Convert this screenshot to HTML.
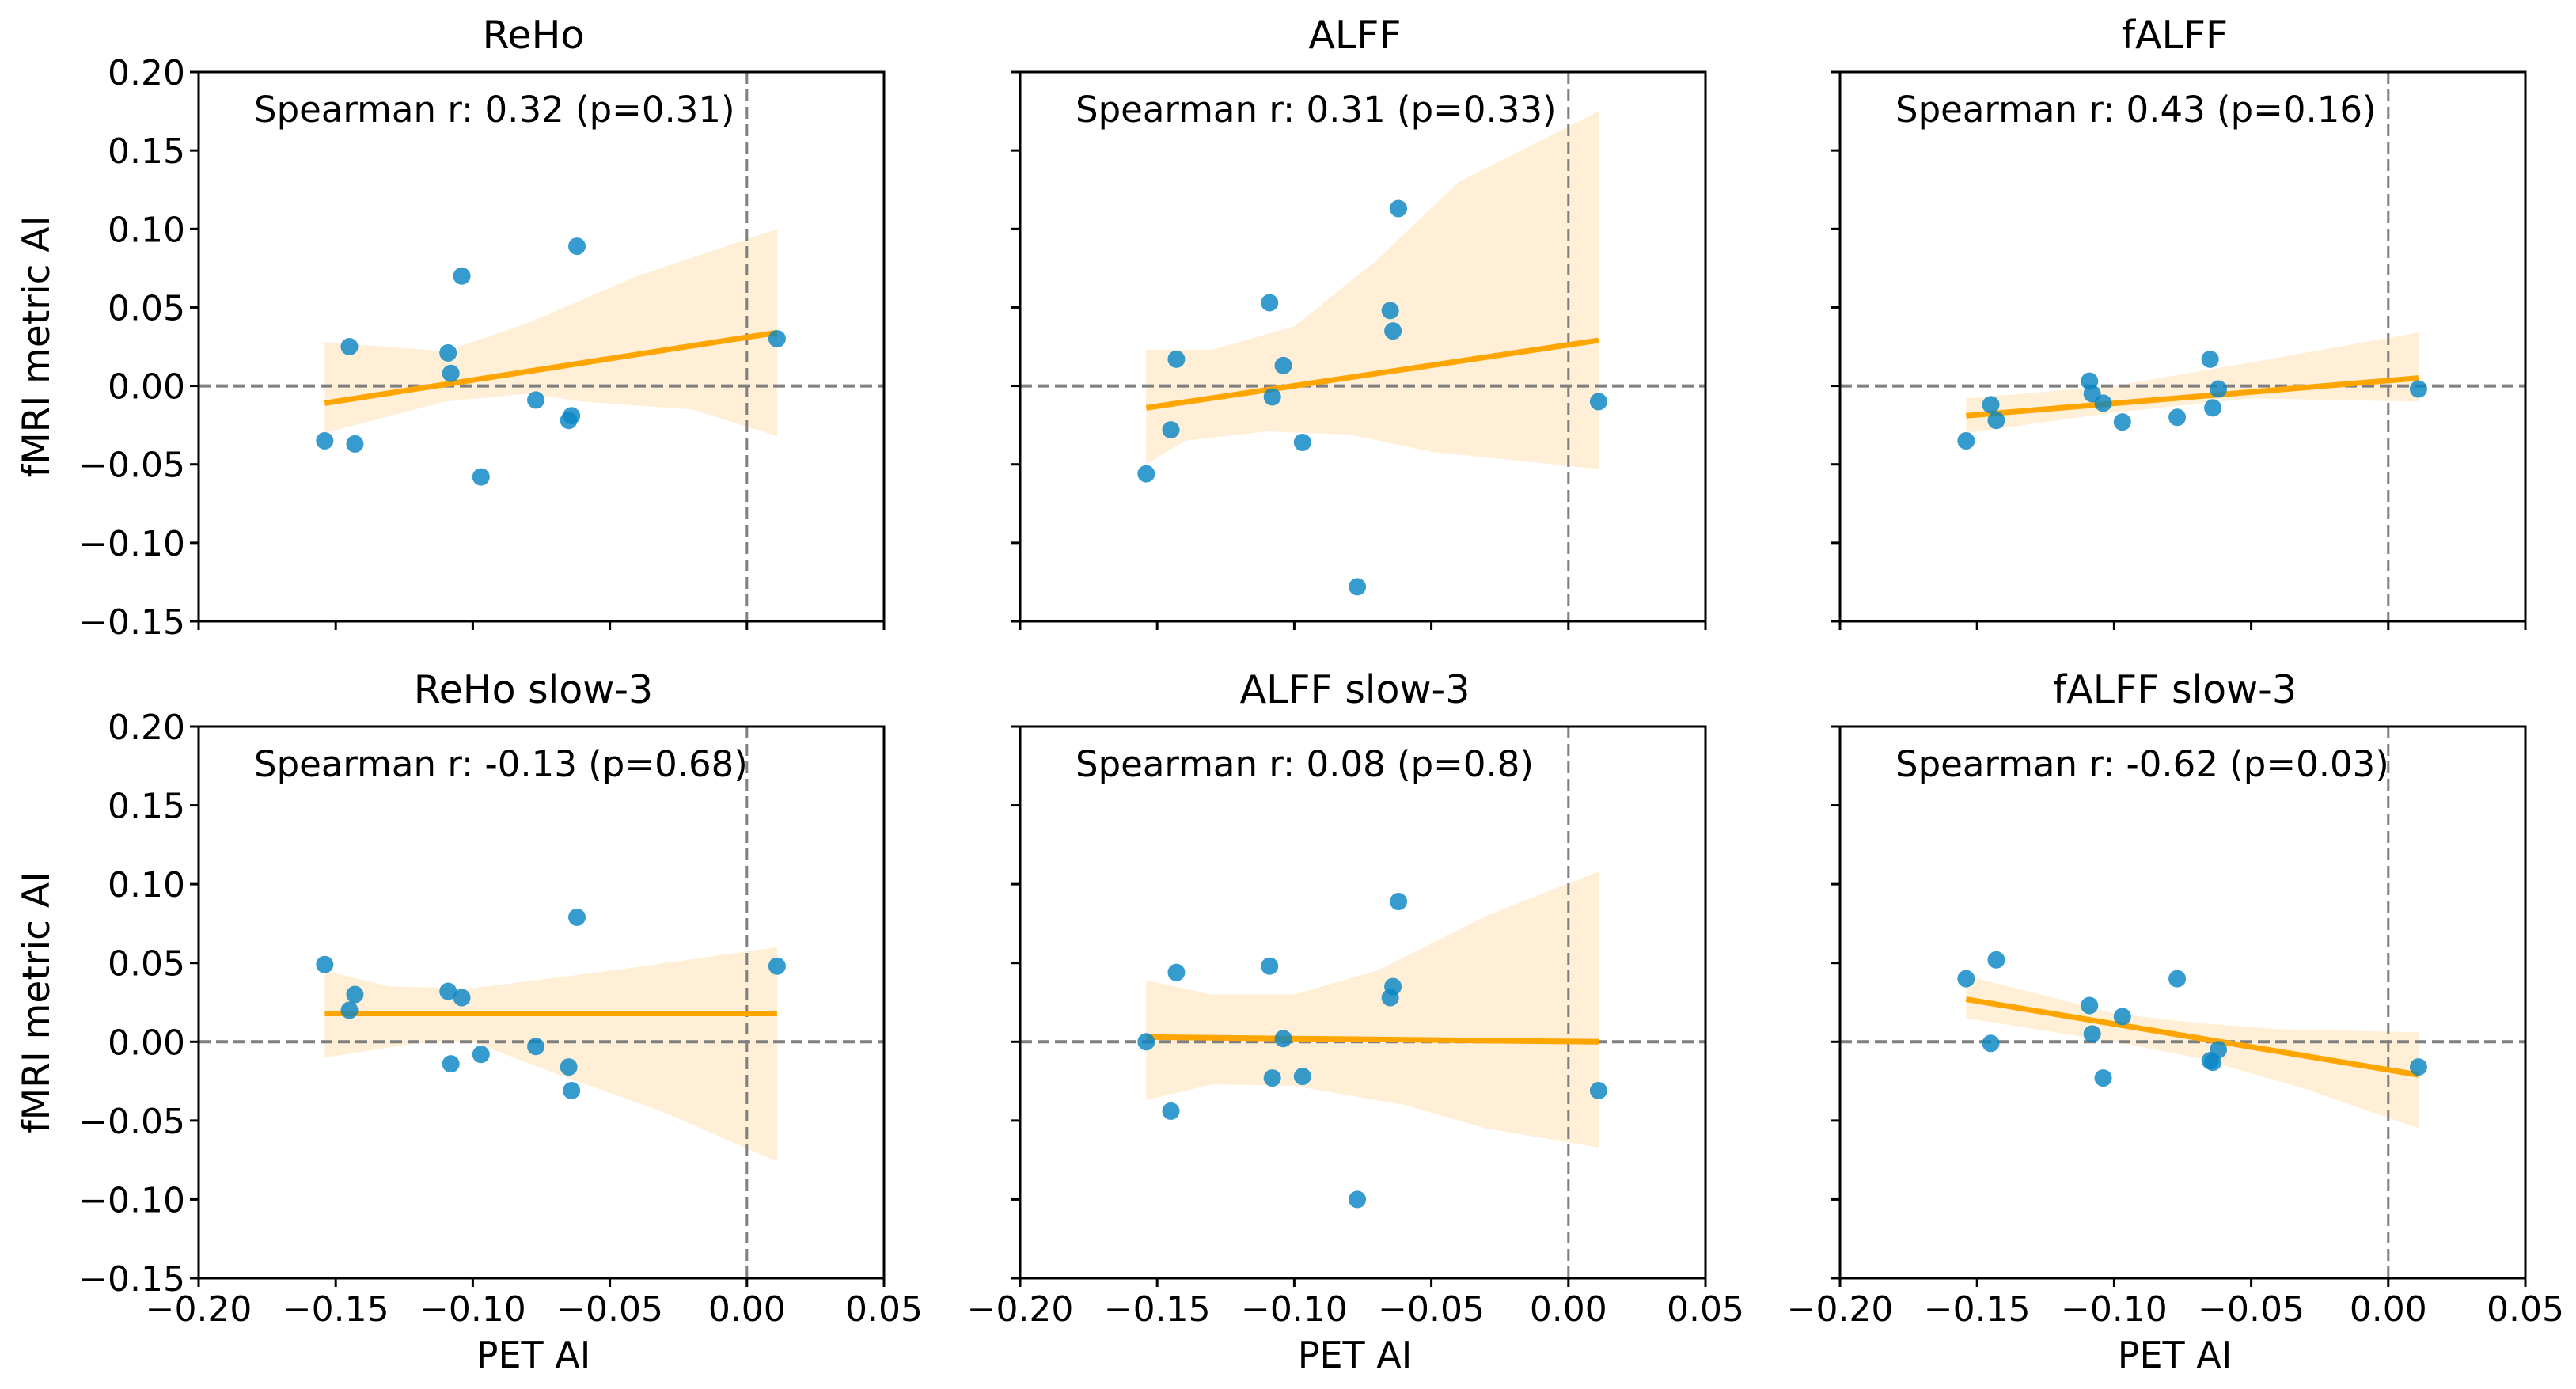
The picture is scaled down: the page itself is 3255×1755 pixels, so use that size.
<!DOCTYPE html>
<html><head><meta charset="utf-8"><style>
html,body{margin:0;padding:0;background:#fff;}
svg text{font-family:"DejaVu Sans","Liberation Sans",sans-serif;fill:#000;}
</style></head><body>
<svg id="fig" width="3255" height="1750" xmlns="http://www.w3.org/2000/svg"></svg>
<script>
const petX = [-0.154,-0.145,-0.143,-0.109,-0.108,-0.104,-0.097,-0.077,-0.065,-0.064,-0.062,0.011];
const titles = ["ReHo","ALFF","fALFF","ReHo slow-3","ALFF slow-3","fALFF slow-3"];
const stats = ["Spearman r: 0.32 (p=0.31)","Spearman r: 0.31 (p=0.33)","Spearman r: 0.43 (p=0.16)","Spearman r: -0.13 (p=0.68)","Spearman r: 0.08 (p=0.8)","Spearman r: -0.62 (p=0.03)"];
const yReHo = [-0.035,0.025,-0.037,0.021,0.008,0.070,-0.058,-0.009,-0.022,-0.019,0.089,0.030];
const yALFF = [-0.056,-0.028,0.017,0.053,-0.007,0.013,-0.036,-0.128,0.048,0.035,0.113,-0.010];
const yfALFF = [-0.035,-0.012,-0.022,0.003,-0.005,-0.011,-0.023,-0.020,0.017,-0.014,-0.002,-0.002];
const yReHo3 = [0.049,0.020,0.030,0.032,-0.014,0.028,-0.008,-0.003,-0.016,-0.031,0.079,0.048];
const yALFF3 = [0.0,-0.044,0.044,0.048,-0.023,0.002,-0.022,-0.100,0.028,0.035,0.089,-0.031];
const yfALFF3 = [0.040,-0.001,0.052,0.023,0.005,-0.023,0.016,0.040,-0.012,-0.013,-0.005,-0.016];
const fitStart = [-0.011,-0.014,-0.019,0.018,0.003,0.027];
const fitEnd = [0.034,0.029,0.005,0.018,0.0,-0.021];
const bandX = [[-0.154,-0.11,-0.08,-0.04,0.011],[-0.154,-0.13,-0.1,-0.07,-0.04,0.011],[-0.154,-0.1,-0.05,0.011],[-0.154,-0.13,-0.1,-0.05,0.011],[-0.154,-0.13,-0.1,-0.07,-0.03,0.011],[-0.154,-0.1,-0.07,-0.04,0.011]];
const bandUpper = [[0.028,0.022,0.04,0.07,0.10],[0.023,0.023,0.038,0.08,0.13,0.175],[-0.008,0.0,0.015,0.034],[0.045,0.035,0.034,0.045,0.06],[0.039,0.030,0.030,0.045,0.08,0.108],[0.042,0.018,0.012,0.008,0.006]];
const bandLowX = [[-0.154,-0.11,-0.08,-0.06,-0.02,0.011],[-0.154,-0.14,-0.11,-0.08,-0.05,0.011],[-0.154,-0.1,-0.05,0.011],[-0.154,-0.12,-0.1,-0.07,-0.03,0.011],[-0.154,-0.13,-0.1,-0.06,-0.03,0.011],[-0.154,-0.1,-0.07,-0.03,0.011]];
const bandLower = [[-0.03,-0.01,-0.005,-0.01,-0.015,-0.032],[-0.05,-0.035,-0.029,-0.031,-0.042,-0.053],[-0.03,-0.017,-0.008,-0.01],[-0.01,-0.001,0.0,-0.02,-0.045,-0.076],[-0.037,-0.027,-0.028,-0.04,-0.055,-0.067],[0.015,0.0,-0.01,-0.03,-0.055]];
const series = [yReHo,yALFF,yfALFF,yReHo3,yALFF3,yfALFF3];
const xTicks = [-0.20,-0.15,-0.10,-0.05,0.00,0.05];
const xTickLabels = ["\u22120.20","\u22120.15","\u22120.10","\u22120.05","0.00","0.05"];
const yTicks = [0.20,0.15,0.10,0.05,0.00,-0.05,-0.10,-0.15];
const yTickLabels = ["0.20","0.15","0.10","0.05","0.00","\u22120.05","\u22120.10","\u22120.15"];

const NS="http://www.w3.org/2000/svg";
const svg=document.getElementById('fig');
function mk(tag,attrs,parent){const e=document.createElementNS(NS,tag);for(const k in attrs)e.setAttribute(k,attrs[k]);(parent||svg).appendChild(e);return e;}
const colL=[251,1289,2325], colW=866;
const rowT=[91,918], rowH=[694,697];
for(let p=0;p<6;p++){
  const c=p%3, r=Math.floor(p/3);
  const L=colL[c], T=rowT[r], W=colW, H=rowH[r];
  const sx=v=>L+(v+0.20)/0.25*W;
  const sy=v=>T+(0.20-v)/0.35*H;
  const g=mk('g',{});
  
  
  let pts=[];
  for(let i=0;i<bandX[p].length;i++)pts.push(sx(bandX[p][i])+','+sy(bandUpper[p][i]));
  for(let i=bandLowX[p].length-1;i>=0;i--)pts.push(sx(bandLowX[p][i])+','+sy(bandLower[p][i]));
  const band=mk('polygon',{points:pts.join(' '),fill:'#ffefd6'},g);
  
  
  const h=mk('line',{x1:L,x2:L+W,y1:sy(0),y2:sy(0),stroke:'#7f7f7f','stroke-width':4,'stroke-dasharray':'15 7'},g);
  
  
  const v=mk('line',{x1:sx(0),x2:sx(0),y1:T,y2:T+H,stroke:'#7f7f7f','stroke-width':3,'stroke-dasharray':'15 7'},g);
  
  
  const fl=mk('line',{x1:sx(petX[0]),x2:sx(petX[petX.length-1]),y1:sy(fitStart[p]),y2:sy(fitEnd[p]),stroke:'#ffa500','stroke-width':7},g);
  
  
  for(let i=0;i<petX.length;i++){
    const d=mk('circle',{cx:sx(petX[i]),cy:sy(series[p][i]),r:11,fill:'#0a86c4','fill-opacity':0.82},g);
    
    
  }
  const fr=mk('rect',{x:L,y:T,width:W,height:H,fill:'none',stroke:'#000','stroke-width':3},g);
  
  
  xTicks.forEach((t,i)=>{
    const tk=mk('line',{x1:sx(t),x2:sx(t),y1:T+H,y2:T+H+11,stroke:'#000','stroke-width':3},g);
    
    
    if(r===1){
      const tl=mk('text',{x:sx(t),y:T+H+54,'font-size':44,'text-anchor':'middle'},g);
      tl.textContent=xTickLabels[i];
      
      
    }
  });
  yTicks.forEach((t,i)=>{
    const tk=mk('line',{x1:L-11,x2:L,y1:sy(t),y2:sy(t),stroke:'#000','stroke-width':3},g);
    
    
    if(c===0){
      const tl=mk('text',{x:L-17,y:sy(t)+16,'font-size':44,'text-anchor':'end'},g);
      tl.textContent=yTickLabels[i];
      
      
    }
  });
  const ti=mk('text',{x:L+W/2-10,y:T-30,'font-size':49,'text-anchor':'middle'},g);
  ti.textContent=titles[p];
  
  
  const st=mk('text',{x:L+70,y:T+63,'font-size':45},g);
  st.textContent=stats[p];
  
  
  if(r===1){
    const xl=mk('text',{x:L+W/2-10,y:1728,'font-size':46,'text-anchor':'middle'},g);
    xl.textContent='PET AI';
    
    
  }
  if(c===0){
    const cy=T+H/2;
    const yl=mk('text',{x:62,y:cy,'font-size':47,'text-anchor':'middle',transform:'rotate(-90 62 '+cy+')'},g);
    yl.textContent='fMRI metric AI';
    
    
  }
}
</script>
</body></html>
